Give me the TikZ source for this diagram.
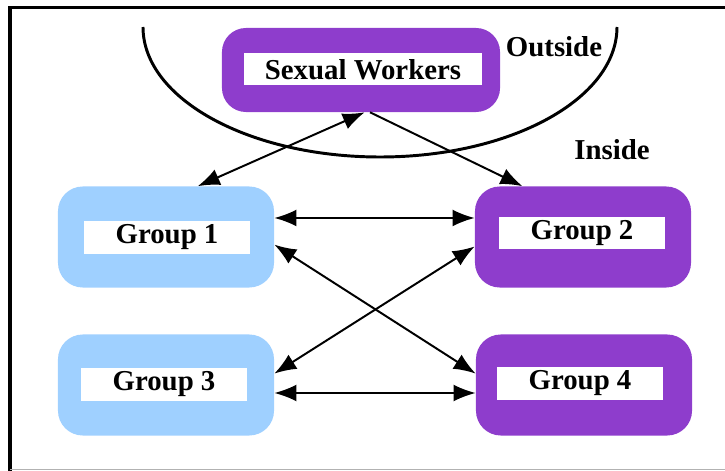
\documentclass[tikz,border=0pt]{standalone}
\usepackage{fontspec}
\setmainfont{Liberation Serif}
\usetikzlibrary{arrows.meta}
\definecolor{swpurple}{HTML}{8E3DCC}
\definecolor{grpblue}{HTML}{9FD0FF}

\begin{document}
\begin{tikzpicture}[x=0.025cm,y=-0.025cm,
        link/.style={{Latex[length=0.55cm,width=0.42cm]}-{Latex[length=0.55cm,width=0.42cm]},line width=1.4pt},
        oneway/.style={-{Latex[length=0.55cm,width=0.42cm]},line width=1.4pt}]
        \tikzset{grp/.style={shape=rectangle,rounded corners=0.62cm,inner sep=0pt,minimum width=5.4cm,minimum height=2.525cm}}
        \tikzset{tag/.style={shape=rectangle,fill=white,inner sep=0pt,minimum width=4.15cm,minimum height=0.8cm,font=\fontsize{20.5}{24}\selectfont\bfseries}}
        \useasboundingbox (0,0) rectangle (725,471);

        % frame
        \draw[line width=2.8pt] (10,471) -- (10,7.5) -- (726,7.5);
        \draw[gray!60,line width=0.8pt] (10,469.5) -- (725,469.5);

        % outside / inside border
        \draw[line width=2.1pt] (143,27) .. controls (143,98.8) and (249.1,157) .. (380,157)
            .. controls (510.9,157) and (617,98.8) .. (617,27);

        \node[grp,fill=swpurple,minimum width=6.95cm,minimum height=2.1cm,rounded corners=0.6cm] (sw) at (361,70) {};
        \node[tag,minimum width=5.925cm] (swt) at (363,69.5) {Sexual Workers};

        \node[grp,fill=grpblue]  (g1) at (166,237) {};
        \node[grp,fill=swpurple] (g2) at (583,237) {};
        \node[grp,fill=grpblue]  (g3) at (166,385) {};
        \node[grp,fill=swpurple] (g4) at (584,385) {};

        \node[tag] (g1t) at (167,237.5) {Group 1};
        \node[tag] (g2t) at (582,233)   {Group 2};
        \node[tag] (g3t) at (164,384.5) {Group 3};
        \node[tag] (g4t) at (580,383.5) {Group 4};

        \node[font=\fontsize{20.5}{24}\selectfont\bfseries] (out) at (554,47)  {Outside};
        \node[font=\fontsize{20.5}{24}\selectfont\bfseries] (in)  at (612,150) {Inside};

        \draw[link]   (sw.-85) -- (g1.58);
        \draw[oneway] (sw.-78) -- (g2.140);
        \draw[link]   ([yshift=0.475cm]g1.east) -- ([yshift=0.475cm]g2.west);
        \draw[link]   (g1.-4) -- (g4.174);
        \draw[link]   (g2.-175) -- (g3.6);
        \draw[link]   ([yshift=-0.2cm]g3.east) -- ([yshift=-0.2cm]g4.west);
    \end{tikzpicture}
\end{document}
